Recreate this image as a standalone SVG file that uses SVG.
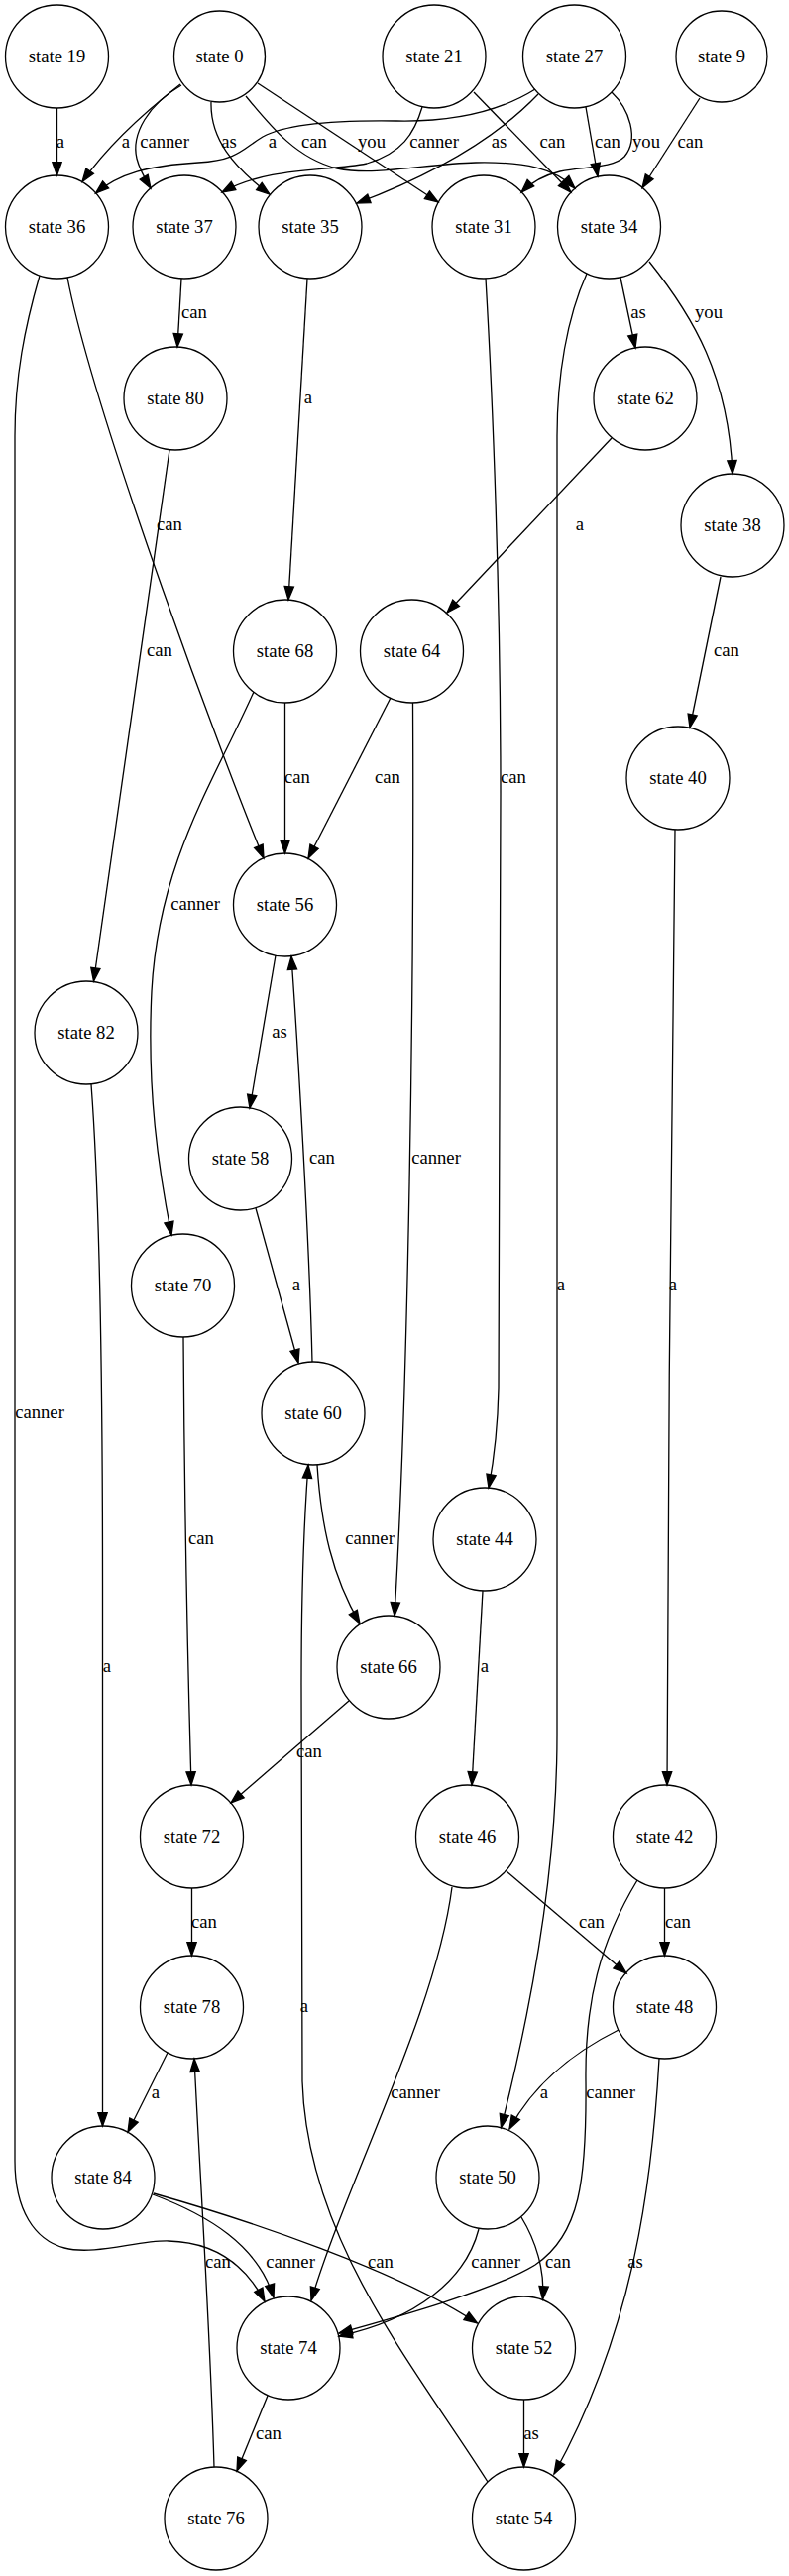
<svg xmlns="http://www.w3.org/2000/svg" width="796" height="2599" viewBox="0 0 796 2599">
<defs>
<style>
.node circle{fill:none;stroke:#000;stroke-width:1.3}
text{font-family:"Liberation Serif","Times New Roman",serif;font-size:18.67px;text-anchor:middle;fill:#000}
.edge path{fill:none;stroke:#000;stroke-width:1.3;marker-end:url(#ah)}
</style>
<marker id="ah" markerUnits="userSpaceOnUse" markerWidth="16" markerHeight="12" refX="13.3" refY="4.67" orient="auto" overflow="visible">
<path d="M0,0 L13.3,4.67 L0,9.33 z" fill="#000" stroke="#000" stroke-width="1.3"/>
</marker>
</defs>
<rect width="796" height="2599" fill="#fff"/>
<g id="edges">
<g class="edge" id="e19-36"><path d="M57.5,109 L57.5,177"/><text x="61" y="149">a</text></g>
<g class="edge" id="e0-36"><path d="M182,85 C150,110 110,145 83,183.5"/><text x="127" y="149">a</text></g>
<g class="edge" id="e0-37"><path d="M183,86 C150,105 132,135 138,160 C141,172 146,180 152,190"/><text x="166" y="149">canner</text></g>
<g class="edge" id="e0-35"><path d="M213,103 C212,140 235,168 272,196"/><text x="231" y="149">as</text></g>
<g class="edge" id="e0-34"><path d="M248,97 C275,130 300,160 340,170 C380,178 430,165 480,164 C530,163 560,170 580,190"/><text x="317" y="149">can</text></g>
<g class="edge" id="e0-31"><path d="M260,84 L442,204"/><text x="375" y="149">you</text></g>
<g class="edge" id="e21-37"><path d="M426,108 C418,135 405,155 370,165 C330,173 270,168 224,194"/><text x="438" y="149">canner</text></g>
<g class="edge" id="e21-34"><path d="M478,93 L576,194"/><text x="557.5" y="149">can</text></g>
<g class="edge" id="e27-36"><path d="M540,90 C500,115 450,123 400,122 C330,121 285,127 265,138 C245,150 240,162 200,164 C150,167 120,175 96.5,195"/><text x="275" y="149">a</text></g>
<g class="edge" id="e27-35"><path d="M543,95 C500,140 440,175 360,205"/><text x="503.5" y="149">as</text></g>
<g class="edge" id="e27-34"><path d="M591,108 L603,178"/><text x="613" y="149">can</text></g>
<g class="edge" id="e27-31"><path d="M617,93 C635,110 645,140 630,158 C618,170 590,168 565,173 C548,177 535,185 526,194"/><text x="652" y="149">you</text></g>
<g class="edge" id="e9-34"><path d="M706,99 L648,189.5"/><text x="696.5" y="149">can</text></g>
<g class="edge" id="e36-56"><path d="M68,280 C95,420 230,780 266,866"/><text x="171" y="535">can</text></g>
<g class="edge" id="e36-74"><path d="M40,278 C25,330 15,380 15,440 L15,2180 C15,2230 35,2260 65,2268 C95,2276 140,2260 170,2261 C210,2262 245,2280 267,2322"/><text x="40" y="1431">canner</text></g>
<g class="edge" id="e37-80"><path d="M183,281 L179,350"/><text x="196" y="321">can</text></g>
<g class="edge" id="e35-68"><path d="M310,281 L291,605"/><text x="311" y="407">a</text></g>
<g class="edge" id="e31-44"><path d="M490,281 C497,400 505,600 505,800 C505,1100 505,1300 503,1400 C502,1450 497,1480 493,1501"/><text x="518" y="790">can</text></g>
<g class="edge" id="e34-50"><path d="M592,276 C572,320 562,380 562,440 L562,1750 C562,1900 530,2050 505.5,2146.5"/><text x="566" y="1302">a</text></g>
<g class="edge" id="e34-62"><path d="M626,280 L641,351"/><text x="644" y="321">as</text></g>
<g class="edge" id="e34-38"><path d="M655,264 C700,320 735,380 739,478"/><text x="715" y="321">you</text></g>
<g class="edge" id="e62-64"><path d="M617,442 L451,618"/><text x="585" y="535">a</text></g>
<g class="edge" id="e38-40"><path d="M727,582 L696,734"/><text x="733" y="662">can</text></g>
<g class="edge" id="e80-82"><path d="M171,454 L94.5,990"/><text x="161" y="662">can</text></g>
<g class="edge" id="e68-56"><path d="M287.5,709 L287.5,861"/><text x="300" y="790">can</text></g>
<g class="edge" id="e68-70"><path d="M256,698 C215,790 160,870 153,1000 C148,1100 160,1180 173,1246"/><text x="197" y="918">canner</text></g>
<g class="edge" id="e64-56"><path d="M394,704 L311,866"/><text x="391" y="790">can</text></g>
<g class="edge" id="e64-66"><path d="M416.5,709 C418,1000 412,1400 398,1630"/><text x="440" y="1174">canner</text></g>
<g class="edge" id="e40-42"><path d="M681,837 C677,1100 674,1500 673,1801"/><text x="679" y="1302">a</text></g>
<g class="edge" id="e56-58"><path d="M278,964 L252,1118"/><text x="282" y="1047">as</text></g>
<g class="edge" id="e58-60"><path d="M258,1219 L301,1375"/><text x="299" y="1302">a</text></g>
<g class="edge" id="e60-56"><path d="M315,1374 C312,1250 300,1050 294,965"/><text x="325" y="1174">can</text></g>
<g class="edge" id="e82-84"><path d="M92,1094 C100,1200 103.5,1400 103.5,1600 L103.5,2145"/><text x="108" y="1687">a</text></g>
<g class="edge" id="e70-72"><path d="M185,1349 C186,1500 190,1700 193,1801"/><text x="203" y="1558">can</text></g>
<g class="edge" id="e60-66"><path d="M320,1478 C324,1540 335,1590 363,1638"/><text x="373" y="1558">canner</text></g>
<g class="edge" id="e44-46"><path d="M487,1605 L476,1801"/><text x="489" y="1687">a</text></g>
<g class="edge" id="e66-72"><path d="M352,1716 L233,1819"/><text x="312" y="1773">can</text></g>
<g class="edge" id="e54-60"><path d="M492,2504 C420,2390 310,2260 305,2100 L304,1700 C304,1600 307,1530 311,1478"/><text x="307" y="2030">a</text></g>
<g class="edge" id="e72-78"><path d="M193.5,1905 L193.5,1973"/><text x="206" y="1945">can</text></g>
<g class="edge" id="e46-48"><path d="M511,1888 L632,1991"/><text x="597" y="1945">can</text></g>
<g class="edge" id="e42-48"><path d="M670.5,1905 L670.5,1973"/><text x="684" y="1945">can</text></g>
<g class="edge" id="e46-74"><path d="M456,1904 C440,2030 350,2200 314,2321"/><text x="419" y="2117">canner</text></g>
<g class="edge" id="e42-74"><path d="M643,1897 C605,1960 590,2020 591,2100 C592,2200 585,2255 540,2285 C500,2310 400,2338 342,2354"/><text x="616" y="2117">canner</text></g>
<g class="edge" id="e48-50"><path d="M624,2048 C580,2070 540,2100 514,2148"/><text x="549" y="2117">a</text></g>
<g class="edge" id="e48-54"><path d="M665,2077 C658,2200 640,2350 559,2496"/><text x="641" y="2288">as</text></g>
<g class="edge" id="e78-84"><path d="M169,2071 L129,2151"/><text x="157" y="2117">a</text></g>
<g class="edge" id="e76-78"><path d="M216,2489 C212,2350 202,2200 196,2077"/><text x="220" y="2288">can</text></g>
<g class="edge" id="e84-74"><path d="M154,2214 C210,2235 260,2265 276,2318"/><text x="293" y="2288">canner</text></g>
<g class="edge" id="e84-52"><path d="M155,2213 C250,2240 400,2290 481.5,2344"/><text x="384" y="2288">can</text></g>
<g class="edge" id="e50-74"><path d="M483,2249 C470,2300 420,2340 342,2357"/><text x="500" y="2288">canner</text></g>
<g class="edge" id="e50-52"><path d="M526,2237 C540,2260 550,2290 547.5,2320"/><text x="563" y="2288">can</text></g>
<g class="edge" id="e52-54"><path d="M528.5,2421 L528.5,2489"/><text x="536" y="2461">as</text></g>
<g class="edge" id="e74-76"><path d="M270,2417 L239,2493"/><text x="271" y="2461">can</text></g>
</g>
<g class="node" id="n19"><circle cx="57.5" cy="57" r="52"/><text x="57.5" y="63.3">state 19</text></g>
<g class="node" id="n0"><circle cx="221.5" cy="57" r="46"/><text x="221.5" y="63.3">state 0</text></g>
<g class="node" id="n21"><circle cx="438" cy="57" r="52"/><text x="438" y="63.3">state 21</text></g>
<g class="node" id="n27"><circle cx="579.5" cy="57" r="52"/><text x="579.5" y="63.3">state 27</text></g>
<g class="node" id="n9"><circle cx="728" cy="57" r="46"/><text x="728" y="63.3">state 9</text></g>
<g class="node" id="n36"><circle cx="57.5" cy="229" r="52"/><text x="57.5" y="235.3">state 36</text></g>
<g class="node" id="n37"><circle cx="186" cy="229" r="52"/><text x="186" y="235.3">state 37</text></g>
<g class="node" id="n35"><circle cx="313" cy="229" r="52"/><text x="313" y="235.3">state 35</text></g>
<g class="node" id="n31"><circle cx="488" cy="229" r="52"/><text x="488" y="235.3">state 31</text></g>
<g class="node" id="n34"><circle cx="614.5" cy="229" r="52"/><text x="614.5" y="235.3">state 34</text></g>
<g class="node" id="n80"><circle cx="177" cy="402" r="52"/><text x="177" y="408.3">state 80</text></g>
<g class="node" id="n62"><circle cx="651" cy="402" r="52"/><text x="651" y="408.3">state 62</text></g>
<g class="node" id="n38"><circle cx="739" cy="530" r="52"/><text x="739" y="536.3">state 38</text></g>
<g class="node" id="n68"><circle cx="287.5" cy="657" r="52"/><text x="287.5" y="663.3">state 68</text></g>
<g class="node" id="n64"><circle cx="415.5" cy="657" r="52"/><text x="415.5" y="663.3">state 64</text></g>
<g class="node" id="n40"><circle cx="684" cy="785" r="52"/><text x="684" y="791.3">state 40</text></g>
<g class="node" id="n56"><circle cx="287.5" cy="913" r="52"/><text x="287.5" y="919.3">state 56</text></g>
<g class="node" id="n82"><circle cx="87" cy="1042" r="52"/><text x="87" y="1048.3">state 82</text></g>
<g class="node" id="n58"><circle cx="242.5" cy="1169" r="52"/><text x="242.5" y="1175.3">state 58</text></g>
<g class="node" id="n70"><circle cx="184.5" cy="1297" r="52"/><text x="184.5" y="1303.3">state 70</text></g>
<g class="node" id="n60"><circle cx="316" cy="1426" r="52"/><text x="316" y="1432.3">state 60</text></g>
<g class="node" id="n44"><circle cx="489" cy="1553" r="52"/><text x="489" y="1559.3">state 44</text></g>
<g class="node" id="n66"><circle cx="392" cy="1682" r="52"/><text x="392" y="1688.3">state 66</text></g>
<g class="node" id="n72"><circle cx="193.5" cy="1853" r="52"/><text x="193.5" y="1859.3">state 72</text></g>
<g class="node" id="n46"><circle cx="471.5" cy="1853" r="52"/><text x="471.5" y="1859.3">state 46</text></g>
<g class="node" id="n42"><circle cx="670.5" cy="1853" r="52"/><text x="670.5" y="1859.3">state 42</text></g>
<g class="node" id="n78"><circle cx="193.5" cy="2025" r="52"/><text x="193.5" y="2031.3">state 78</text></g>
<g class="node" id="n48"><circle cx="670.5" cy="2025" r="52"/><text x="670.5" y="2031.3">state 48</text></g>
<g class="node" id="n84"><circle cx="104" cy="2197" r="52"/><text x="104" y="2203.3">state 84</text></g>
<g class="node" id="n50"><circle cx="492" cy="2197" r="52"/><text x="492" y="2203.3">state 50</text></g>
<g class="node" id="n74"><circle cx="291" cy="2369" r="52"/><text x="291" y="2375.3">state 74</text></g>
<g class="node" id="n52"><circle cx="528.5" cy="2369" r="52"/><text x="528.5" y="2375.3">state 52</text></g>
<g class="node" id="n76"><circle cx="218" cy="2541" r="52"/><text x="218" y="2547.3">state 76</text></g>
<g class="node" id="n54"><circle cx="528.5" cy="2541" r="52"/><text x="528.5" y="2547.3">state 54</text></g>
</svg>
